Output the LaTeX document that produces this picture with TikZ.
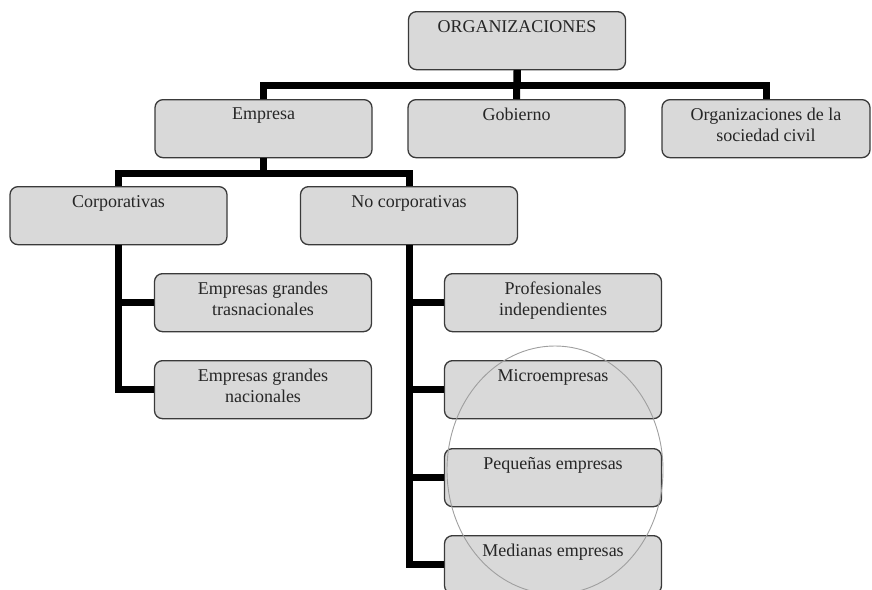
\documentclass[tikz,border=0pt]{standalone}
\usepackage{fontspec}
\setmainfont{Liberation Serif}
\usetikzlibrary{positioning}
\definecolor{BoxFill}{HTML}{D9D9D9}
\definecolor{BoxLine}{HTML}{3A3A3A}
\definecolor{TextGray}{HTML}{262626}

\begin{document}
\begin{tikzpicture}[x=1pt,y=-1pt,
      orgbox/.style={draw=BoxLine,fill=BoxFill,line width=1.3pt,rounded corners=8pt,
        minimum width=217pt,minimum height=58pt,anchor=north,inner sep=0pt},
      boxtext/.style={anchor=north,inner sep=0pt,yshift=-9pt,align=center,
        text=TextGray,font=\fontsize{18}{21}\selectfont},
      link/.style={line width=7pt,black}
    ]
      \useasboundingbox (0,0) rectangle (872,589);
      % level 1 and 2
      \node[orgbox,label={[boxtext]north:ORGANIZACIONES}] (org) at (517,11) {};
      \node[orgbox,label={[boxtext]north:Empresa}] (emp) at (263.5,99) {};
      \node[orgbox,label={[boxtext]north:Gobierno}] (gob) at (516.5,99) {};
      \node[orgbox,minimum width=208pt,
        label={[boxtext]north:Organizaciones de la\\sociedad civil}] (osc) at (766,99) {};
      % level 3
      \node[orgbox,label={[boxtext]north:Corporativas}] (corp) at (118.5,186) {};
      \node[orgbox,label={[boxtext]north:No corporativas}] (ncorp) at (409,186) {};
      % corporativas
      \node[orgbox,label={[boxtext]north:Empresas grandes\\trasnacionales}] (tras) at (263,273) {};
      \node[orgbox,label={[boxtext]north:Empresas grandes\\nacionales}] (nac) at (263,360) {};
      % no corporativas
      \node[orgbox,label={[boxtext]north:Profesionales\\independientes}] (prof) at (553,273) {};
      \node[orgbox,label={[boxtext]north:Microempresas}] (micro) at (553,360) {};
      \node[orgbox,label={[boxtext]north:Pequeñas empresas}] (peq) at (553,448) {};
      \node[orgbox,label={[boxtext]north:Medianas empresas}] (med) at (553,535) {};

      \draw[link] (org.south) -- ++(0,15) -| (emp.north);
      \draw[link] (org.south) -- ++(0,15) -| (osc.north);
      \draw[link] (org.south) -- (gob.north);
      \draw[link] (emp.south) -- ++(0,15) -| (corp.north);
      \draw[link] (emp.south) -- ++(0,15) -| (ncorp.north);
      \draw[link] (corp.south) |- (tras.west);
      \draw[link] (corp.south) |- (nac.west);
      \foreach \n in {prof,micro,peq,med}
        \draw[link] (ncorp.south) |- (\n.west);

      \draw[gray!75,line width=0.9pt] (555,470) ellipse [x radius=108pt,y radius=124pt];
    \end{tikzpicture}
\end{document}
